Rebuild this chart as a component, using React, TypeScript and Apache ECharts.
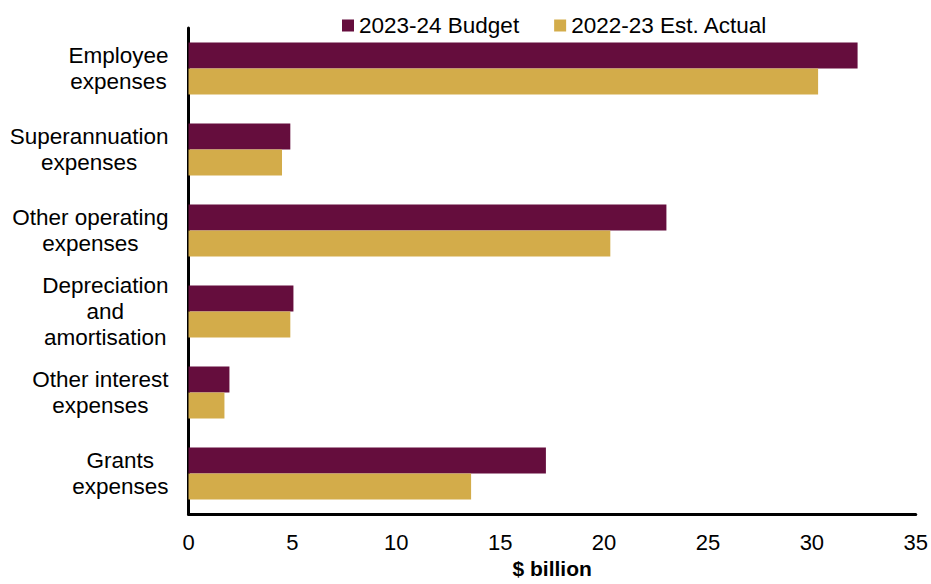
import React, { useEffect, useRef } from "react";
import * as echarts from "echarts";

const categories = [
  "Employee\nexpenses",
  "Superannuation\nexpenses",
  "Other operating\nexpenses",
  "Depreciation\nand\namortisation",
  "Other interest\nexpenses",
  "Grants\nexpenses",
];
const budget2324 = [32.2, 4.9, 23.0, 5.05, 1.97, 17.2];
const estActual2223 = [30.3, 4.5, 20.3, 4.9, 1.73, 13.6];
const seriesNames = ["2023-24 Budget", "2022-23 Est. Actual"];
const xTicks = { min: 0, max: 35, interval: 5 };

const FONT = "'Liberation Sans', Arial, sans-serif";
const MAROON = "#650D3D";
const GOLD = "#D3AC4A";

export default function App() {
  const ref = useRef<HTMLDivElement>(null);
  useEffect(() => {
    if (!ref.current) return;
    const chart = echarts.init(ref.current, null, { renderer: "svg" });
    chart.setOption({
      animation: false,
      textStyle: { fontFamily: FONT },
      legend: {
        left: 342,
        top: 14,
        padding: 0,
        icon: "rect",
        itemWidth: 12,
        itemHeight: 12,
        itemGap: 35,
        textStyle: { fontSize: 22.5, color: "#000", fontFamily: FONT },
        data: seriesNames,
      },
      grid: { left: 188.5, right: 14.5, top: 28, height: 493 },
      xAxis: {
        type: "value",
        min: xTicks.min,
        max: xTicks.max,
        interval: xTicks.interval,
        name: "$ billion",
        nameLocation: "middle",
        nameGap: 43,
        nameTextStyle: { fontSize: 21, fontWeight: "bold", color: "#000", fontFamily: FONT },
        axisLine: { show: true, lineStyle: { color: "#000", width: 3 } },
        axisTick: { show: false },
        splitLine: { show: false },
        axisLabel: { fontSize: 22, color: "#000", margin: 17, fontFamily: FONT },
      },
      yAxis: {
        type: "category",
        inverse: true,
        data: categories,
        axisLine: { show: true, lineStyle: { color: "#000", width: 3 } },
        axisTick: { show: false },
        axisLabel: {
          margin: 20,
          color: "#000",
          fontSize: 22.5,
          fontFamily: FONT,
          lineHeight: 26,
          formatter: (v: string) =>
            v
              .split("\n")
              .map((l) => `{c|${l}}`)
              .join("\n"),
          rich: {
            c: { align: "center", fontSize: 22.5, lineHeight: 26, color: "#000", fontFamily: FONT },
          },
        },
      },
      series: [
        {
          name: seriesNames[0],
          type: "bar",
          data: budget2324,
          itemStyle: { color: MAROON },
          barWidth: 26,
          barGap: "0%",
          barCategoryGap: "36.6%",
        },
        {
          name: seriesNames[1],
          type: "bar",
          data: estActual2223,
          itemStyle: { color: GOLD },
          barWidth: 26,
          barGap: "0%",
          barCategoryGap: "36.6%",
        },
      ],
    });
    return () => chart.dispose();
  }, []);
  return (
    <div
      ref={ref}
      style={{ position: "absolute", left: 0, top: 0, width: 931, height: 584 }}
    />
  );
}
